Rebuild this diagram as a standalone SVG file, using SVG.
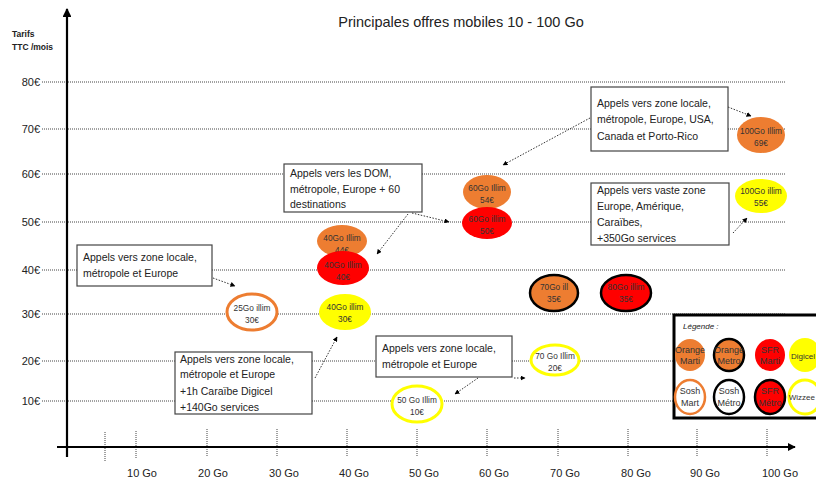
<svg xmlns="http://www.w3.org/2000/svg" width="816" height="481" viewBox="0 0 816 481">
<defs>
<marker id="ah" viewBox="0 0 10 10" refX="9" refY="5" markerWidth="5" markerHeight="5" orient="auto"><path d="M0,0 L10,5 L0,10 z" fill="#000"/></marker>
<marker id="axh" viewBox="0 0 10 10" refX="9" refY="5" markerWidth="4" markerHeight="4" orient="auto"><path d="M0,0 L10,5 L0,10 z" fill="#000"/></marker>
</defs>
<style>
text{font-family:"Liberation Sans",Arial,sans-serif;fill:#222}
.grid{stroke:#444;stroke-width:1;stroke-dasharray:1,1}
.tick{stroke:#444;stroke-width:1;stroke-dasharray:1,1}
.ylab{font-size:11px;text-anchor:end}
.xlab{font-size:11px;text-anchor:middle}
.box{fill:#fff;stroke:#444;stroke-width:1.2}
.ct{font-size:10.5px}
.et{font-size:8.3px;text-anchor:middle;fill:#333}
.conn{stroke:#333;stroke-width:1;stroke-dasharray:1.5,1.5;fill:none;marker-end:url(#ah)}
.or{fill:#ED7D31}
.rd{fill:#FF0000}
.ye{fill:#FFFF00}
.lt{font-size:9px;text-anchor:middle;fill:#333}
</style>
<rect width="816" height="481" fill="#fff"/>
<g id="title"><text x="461" y="27" font-size="14.5" text-anchor="middle">Principales offres mobiles 10 - 100 Go</text></g>
<g id="grid">
<line class="grid" x1="42" y1="82" x2="786" y2="82"/>
<line class="grid" x1="42" y1="129" x2="786" y2="129"/>
<line class="grid" x1="42" y1="174" x2="786" y2="174"/>
<line class="grid" x1="42" y1="222" x2="786" y2="222"/>
<line class="grid" x1="42" y1="270" x2="786" y2="270"/>
<line class="grid" x1="42" y1="314" x2="786" y2="314"/>
<line class="grid" x1="42" y1="361" x2="786" y2="361"/>
<line class="grid" x1="42" y1="401" x2="786" y2="401"/>
<line class="tick" x1="105" y1="432" x2="105" y2="461"/>
<line class="tick" x1="136" y1="431" x2="136" y2="458"/>
<line class="tick" x1="207" y1="429" x2="207" y2="457"/>
<line class="tick" x1="277" y1="429" x2="277" y2="457"/>
<line class="tick" x1="347" y1="429" x2="347" y2="457"/>
<line class="tick" x1="417" y1="429" x2="417" y2="457"/>
<line class="tick" x1="487" y1="429" x2="487" y2="457"/>
<line class="tick" x1="558" y1="429" x2="558" y2="457"/>
<line class="tick" x1="628" y1="429" x2="628" y2="457"/>
<line class="tick" x1="697" y1="429" x2="697" y2="457"/>
<line class="tick" x1="767" y1="429" x2="767" y2="457"/>
</g>
<g id="axes">
<line x1="67" y1="457" x2="67" y2="9" stroke="#000" stroke-width="2.2" marker-end="url(#axh)"/>
<line x1="57" y1="447" x2="795" y2="447" stroke="#000" stroke-width="2" marker-end="url(#axh)"/>
<text x="12" y="37" font-size="8.5" font-weight="bold">Tarifs</text>
<text x="12" y="50" font-size="8.5" font-weight="bold">TTC /mois</text>
<text class="ylab" x="40" y="86">80€</text>
<text class="ylab" x="40" y="133">70€</text>
<text class="ylab" x="40" y="178">60€</text>
<text class="ylab" x="40" y="226">50€</text>
<text class="ylab" x="40" y="274">40€</text>
<text class="ylab" x="40" y="318">30€</text>
<text class="ylab" x="40" y="365">20€</text>
<text class="ylab" x="40" y="405">10€</text>
<text class="xlab" x="142" y="477">10 Go</text>
<text class="xlab" x="213" y="477">20 Go</text>
<text class="xlab" x="284" y="477">30 Go</text>
<text class="xlab" x="354" y="477">40 Go</text>
<text class="xlab" x="424" y="477">50 Go</text>
<text class="xlab" x="494" y="477">60 Go</text>
<text class="xlab" x="565" y="477">70 Go</text>
<text class="xlab" x="636" y="477">80 Go</text>
<text class="xlab" x="705" y="477">90 Go</text>
<text class="xlab" x="780" y="477">100 Go</text>
</g>
<g id="connectors">
<line class="conn" x1="728" y1="107" x2="751" y2="116"/>
<line class="conn" x1="590" y1="118" x2="503" y2="165"/>
<line class="conn" x1="412" y1="213" x2="449" y2="222"/>
<line class="conn" x1="408" y1="214" x2="377" y2="254"/>
<line class="conn" x1="213" y1="278" x2="235" y2="286"/>
<line class="conn" x1="315" y1="378" x2="337" y2="337"/>
<line class="conn" x1="514" y1="378" x2="525" y2="378"/>
<line class="conn" x1="478" y1="378" x2="455" y2="394"/>
<line class="conn" x1="733" y1="233" x2="747" y2="218"/>
</g>
<g id="node-100-69"><ellipse class="or" cx="761" cy="135" rx="24" ry="18"/><text class="et" x="761" y="134">100Go  Illim</text><text class="et" x="761" y="146">69€</text></g>
<g id="node-60-54"><ellipse class="or" cx="487" cy="192" rx="24" ry="17"/><text class="et" x="487" y="191">60Go  Illim</text><text class="et" x="487" y="203">54€</text></g>
<g id="node-60-50"><ellipse class="rd" cx="487" cy="223" rx="25" ry="16"/><text class="et" x="487" y="222">60Go  illim</text><text class="et" x="487" y="234">50€</text></g>
<g id="node-40-44"><ellipse class="or" cx="342" cy="241" rx="25" ry="16"/><text class="et" x="342" y="241">40Go  Illim</text><text class="et" x="342" y="253">44€</text></g>
<g id="node-40-40"><ellipse class="rd" cx="343" cy="268" rx="26" ry="17"/><text class="et" x="343" y="268">40Go Illim</text><text class="et" x="343" y="280">40€</text></g>
<g id="node-40-30"><ellipse class="ye" cx="345" cy="312" rx="26" ry="18"/><text class="et" x="345" y="310">40Go  illim</text><text class="et" x="345" y="322">30€</text></g>
<g id="node-25-30"><ellipse fill="#fff" stroke="#ED7D31" stroke-width="3" cx="252" cy="312" rx="25" ry="18"/><text class="et" x="252" y="311" fill="#666">25Go illim</text><text class="et" x="252" y="323">30€</text></g>
<g id="node-70-35"><ellipse class="or" stroke="#000" stroke-width="2.5" cx="554" cy="293" rx="24" ry="18"/><text class="et" x="554" y="290">70Go  ill</text><text class="et" x="554" y="302">35€</text></g>
<g id="node-80-35"><ellipse class="rd" stroke="#000" stroke-width="2.5" cx="626" cy="293" rx="25" ry="18"/><text class="et" x="626" y="290">80Go illim</text><text class="et" x="626" y="302">35€</text></g>
<g id="node-70-20"><ellipse fill="#fff" stroke="#FFFF00" stroke-width="3" cx="555" cy="360" rx="24" ry="15"/><text class="et" x="555" y="359">70 Go Illim</text><text class="et" x="555" y="371">20€</text></g>
<g id="node-50-10"><ellipse fill="#fff" stroke="#FFFF00" stroke-width="3" cx="417" cy="404" rx="25" ry="18"/><text class="et" x="417" y="403">50 Go Illim</text><text class="et" x="417" y="415">10€</text></g>
<g id="node-100-55"><ellipse class="ye" cx="761" cy="196" rx="26" ry="17"/><text class="et" x="761" y="194" fill="#555">100Go  illim</text><text class="et" x="761" y="206">55€</text></g>
<g id="note-usa"><rect class="box" x="591" y="87" width="137" height="64"/><text class="ct" x="597" y="107">Appels vers zone locale,</text><text class="ct" x="597" y="123">métropole, Europe, USA,</text><text class="ct" x="597" y="140">Canada et Porto-Rico</text></g>
<g id="note-dom"><rect class="box" x="284" y="164" width="138" height="48"/><text class="ct" x="290" y="177">Appels vers les DOM,</text><text class="ct" x="290" y="193">métropole, Europe + 60</text><text class="ct" x="290" y="208">destinations</text></g>
<g id="note-25"><rect class="box" x="77" y="245" width="135" height="41"/><text class="ct" x="83" y="261">Appels vers zone locale,</text><text class="ct" x="83" y="277">métropole et Europe</text></g>
<g id="note-digicel"><rect class="box" x="175" y="352" width="137" height="62"/><text class="ct" x="180" y="363">Appels vers zone locale,</text><text class="ct" x="180" y="378">métropole et Europe</text><text class="ct" x="180" y="395">+1h Caraïbe Digicel</text><text class="ct" x="180" y="411">+140Go services</text></g>
<g id="note-wizz"><rect class="box" x="376" y="336" width="136" height="41"/><text class="ct" x="382" y="352">Appels vers zone locale,</text><text class="ct" x="382" y="368">métropole et Europe</text></g>
<g id="note-vaste"><rect class="box" x="591" y="183" width="138" height="62"/><text class="ct" x="597" y="194">Appels vers vaste zone</text><text class="ct" x="597" y="210">Europe, Amérique,</text><text class="ct" x="597" y="226">Caraïbes,</text><text class="ct" x="597" y="242">+350Go services</text></g>
<g id="legend">
<rect x="674" y="315" width="150" height="103" fill="#fff" stroke="#000" stroke-width="3"/>
<text x="683" y="329" font-size="8" font-style="italic">Légende :</text>
<ellipse class="or" cx="690" cy="355" rx="15" ry="16"/><text class="lt" x="690" y="353">Orange</text><text class="lt" x="690" y="364">Marti</text>
<ellipse class="or" stroke="#000" stroke-width="2.5" cx="729" cy="355" rx="15" ry="16"/><text class="lt" x="729" y="353">Orange</text><text class="lt" x="729" y="364">Metro</text>
<ellipse class="rd" cx="770" cy="355" rx="15" ry="16"/><text class="lt" x="770" y="353">SFR</text><text class="lt" x="770" y="364">Marti</text>
<ellipse class="ye" cx="805" cy="355" rx="16" ry="17"/><text class="lt" x="815" y="359" style="text-anchor:end;font-size:8px">Digicel</text>
<ellipse fill="#fff" stroke="#ED7D31" stroke-width="2.5" cx="690" cy="397" rx="15" ry="17"/><text class="lt" x="690" y="394">Sosh</text><text class="lt" x="690" y="406">Mart</text>
<ellipse fill="#fff" stroke="#000" stroke-width="2.5" cx="729" cy="397" rx="15" ry="17"/><text class="lt" x="729" y="394">Sosh</text><text class="lt" x="729" y="406">Métro</text>
<ellipse class="rd" stroke="#000" stroke-width="2.5" cx="770" cy="397" rx="15" ry="17"/><text class="lt" x="770" y="394">SFR</text><text class="lt" x="770" y="406">Métro</text>
<ellipse fill="#fff" stroke="#FFFF00" stroke-width="3" cx="805" cy="397" rx="16" ry="17"/><text class="lt" x="815" y="400" style="text-anchor:end;font-size:8px">Wizzee</text>
</g>
</svg>
